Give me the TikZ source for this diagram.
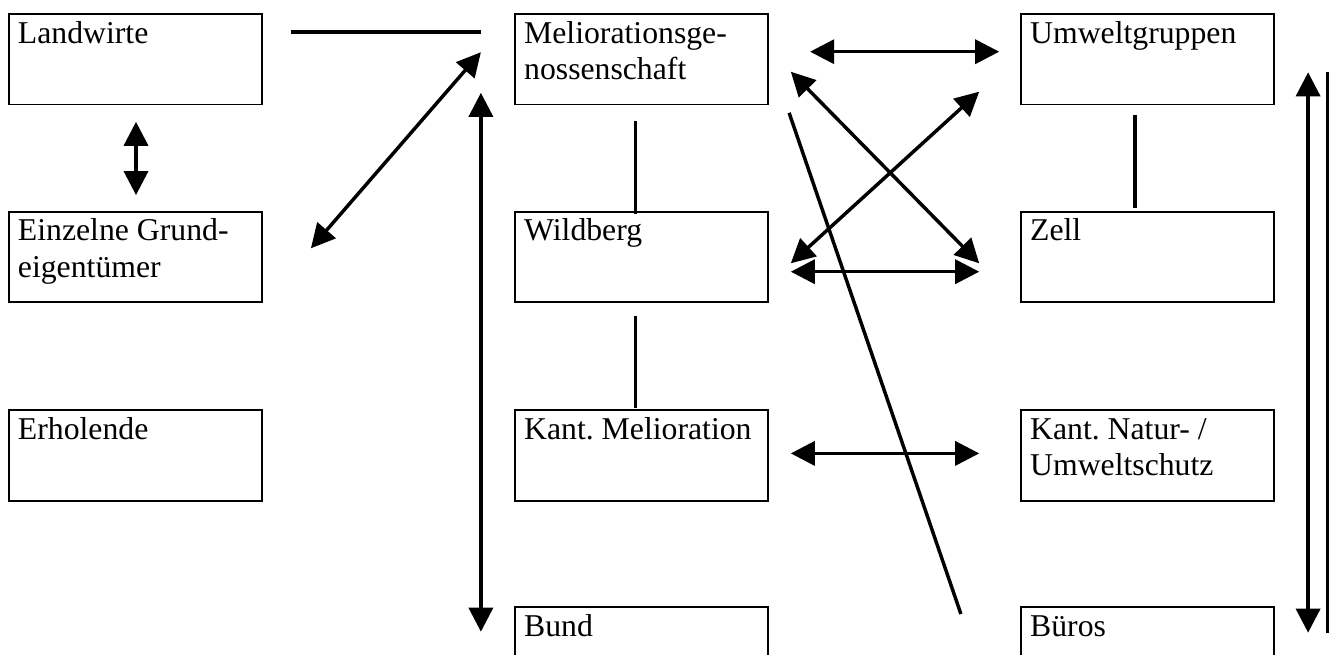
\documentclass[tikz,border=0pt]{standalone}
\usepackage{fontspec}
\setmainfont{Liberation Serif}
\usepackage{tikz}
\usetikzlibrary{arrows.meta}
\newcommand{\boxtext}[1]{\begin{tabular}[t]{@{}l@{}}#1\end{tabular}}

\begin{document}
\begin{tikzpicture}[x=0.75pt,y=-0.75pt,
  box/.style={draw,line width=1.4pt,minimum width=190pt,minimum height=67.9pt,inner sep=0pt},
  lbl/.style={anchor=base west,inner sep=0pt,font=\fontsize{23.8}{27.5}\selectfont},
  link/.style={line width=2.6pt},
  dbl/.style={link,{Triangle[length=18pt,width=18pt]}-{Triangle[length=18pt,width=18pt]}}]
\clip (0,0) rectangle (1337,654);
% Kaestchen
\node[box] (lw) at (135.3,59.2) {};
\node[box] (eg) at (135.3,257) {};
\node[box] (er) at (135.3,455.4) {};
\node[box] (mg) at (641.5,59.2) {};
\node[box] (wb) at (641.5,257) {};
\node[box] (km) at (641.5,455.4) {};
\node[box] (bd) at (641.5,652.5) {};
\node[box] (ug) at (1147.5,59.2) {};
\node[box] (zl) at (1147.5,257) {};
\node[box] (kn) at (1147.5,455.4) {};
\node[box] (br) at (1147.5,652.5) {};
\node[lbl] (lwt) at ([shift={(10,30)}]lw.north west) {Landwirte};
\node[lbl] (egt) at ([shift={(10,30)}]eg.north west) {\boxtext{Einzelne Grund-\\eigentümer}};
\node[lbl] (ert) at ([shift={(10,30)}]er.north west) {Erholende};
\node[lbl] (mgt) at ([shift={(10,30)}]mg.north west) {\boxtext{Meliorationsge-\\nossenschaft}};
\node[lbl] (wbt) at ([shift={(10,30)}]wb.north west) {Wildberg};
\node[lbl] (kmt) at ([shift={(10,30)}]km.north west) {Kant.\ Melioration};
\node[lbl] (bdt) at ([shift={(10,30)}]bd.north west) {Bund};
\node[lbl] (ugt) at ([shift={(10,30)}]ug.north west) {Umweltgruppen};
\node[lbl] (zlt) at ([shift={(10,30)}]zl.north west) {Zell};
\node[lbl] (knt) at ([shift={(10,30)}]kn.north west) {\boxtext{Kant.\ Natur- /\\Umweltschutz}};
\node[lbl] (brt) at ([shift={(10,30)}]br.north west) {Büros};
% Verbindungen
\draw[link] ([shift={(28,-27)}]lw.east) -- ([shift={(-33,-27)}]mg.west);
\draw[dbl] ([shift={(0.7,16.4)}]lw.south) -- ([shift={(0.7,-15.7)}]eg.north);
\draw[dbl] ([shift={(48,-8.7)}]eg.east) -- ([shift={(-33,-7)}]mg.west);
\draw[dbl] ([shift={(-33,-12.6)}]mg.south west) -- ([shift={(-33,25.4)}]bd.north west);
\draw[link] ([shift={(-6.2,15.7)}]mg.south) -- ([shift={(-6.2,3)}]wb.north);
\draw[link] ([shift={(-6.2,12.7)}]wb.south) -- ([shift={(-6.2,-1)}]km.north);
\draw[dbl] ([shift={(41,-7.5)}]mg.east) -- ([shift={(-20.7,-7.5)}]ug.west);
\draw[dbl] ([shift={(21.7,12.5)}]mg.east) -- ([shift={(-40.7,6.3)}]zl.west);
\draw[dbl] ([shift={(-40.7,32.5)}]ug.west) -- ([shift={(21.7,6.3)}]wb.east);
\draw[dbl] ([shift={(21.7,14.7)}]wb.east) -- ([shift={(-40.7,14.7)}]zl.west);
\draw[link] ([shift={(20,7.4)}]mg.south east) -- ([shift={(-59,7.7)}]br.north west);
\draw[dbl] ([shift={(21.7,-2)}]km.east) -- ([shift={(-40.7,-2)}]kn.west);
\draw[link] ([shift={(-12.5,10)}]ug.south) -- ([shift={(-12.5,-2.4)}]zl.north);
\draw[dbl] ([shift={(33,13.1)}]ug.east) -- ([shift={(33,-19.8)}]br.east);
\draw[link] ([shift={(52.4,13.1)}]ug.east) -- ([shift={(52.4,-19.8)}]br.east);
\end{tikzpicture}
\end{document}
